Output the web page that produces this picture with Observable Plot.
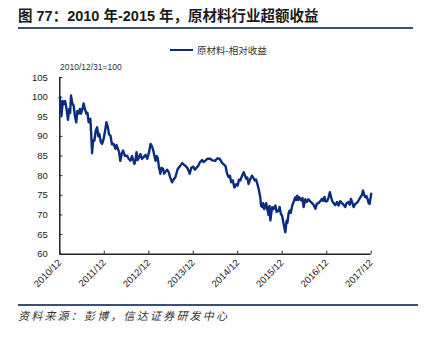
<!DOCTYPE html>
<html><head><meta charset="utf-8">
<script src="https://cdn.jsdelivr.net/npm/d3@7"></script>
<script src="https://cdn.jsdelivr.net/npm/@observablehq/plot@0.6"></script>
<style>
body{margin:0;background:#fff;}
#wrap{position:relative;width:424px;height:346px;overflow:hidden;font-family:"Liberation Sans","Noto Sans CJK SC",sans-serif;color:#222;}
#title{position:absolute;left:18px;top:6px;font-size:14.5px;font-weight:bold;white-space:nowrap;line-height:20px;color:#1a1a1a;}
.rule{position:absolute;left:18px;height:2px;background:#3E5070;}
#legend{position:absolute;left:170px;top:43px;font-family:"Noto Sans CJK SC",sans-serif;font-size:9.5px;line-height:14px;white-space:nowrap;color:#333;}
#legend .sw{display:inline-block;width:23px;height:2px;background:#0B2D7F;vertical-align:middle;margin-right:4px;position:relative;top:-1px;}
#sub{position:absolute;left:60px;top:61px;font-size:8.5px;line-height:12px;color:#333;}
#chart{position:absolute;left:0;top:60px;}
#cap{position:absolute;left:18px;top:307px;font-family:"Noto Sans CJK SC",sans-serif;font-size:11px;font-style:italic;letter-spacing:2.2px;line-height:16px;color:#333;white-space:nowrap;}
</style></head><body>
<div id="wrap">
 <div id="title">图 77：2010 年-2015 年，原材料行业超额收益</div>
 <div class="rule" style="top:27px;width:395px;"></div>
 <div id="legend"><span class="sw"></span><span>原材料-相对收益</span></div>
 <div id="sub">2010/12/31=100</div>
 <div id="chart"></div>
 <div class="rule" style="top:304px;width:400px;height:1.5px;"></div>
 <div id="cap">资料来源：彭博，信达证券研发中心</div>
</div>
<script>
const seriesName = "原材料-相对收益";
const points = [
["2010-12-31",100.0],["2011-01-07",98.0],["2011-01-14",95.3],["2011-01-24",99.0],["2011-02-02",98.2],["2011-02-12",99.0],["2011-02-22",97.5],["2011-03-08",94.2],["2011-03-19",97.0],["2011-03-26",96.0],
["2011-04-02",100.4],["2011-04-12",98.5],["2011-04-24",97.8],["2011-05-05",95.0],["2011-05-15",93.6],["2011-05-25",96.5],["2011-06-04",95.8],["2011-06-14",97.0],["2011-06-23",95.8],["2011-07-05",97.0],
["2011-07-15",98.4],["2011-07-25",97.0],["2011-08-06",95.8],["2011-08-15",96.0],["2011-08-25",93.6],["2011-09-08",94.5],["2011-09-15",90.5],["2011-09-22",85.7],["2011-09-30",89.0],["2011-10-11",88.9],
["2011-10-22",91.5],["2011-11-03",92.3],["2011-11-12",90.0],["2011-11-21",90.6],["2011-12-03",88.5],["2011-12-13",88.1],["2011-12-27",89.5],["2012-01-10",92.0],["2012-01-18",93.6],["2012-01-29",92.5],
["2012-02-08",90.5],["2012-02-20",90.2],["2012-03-03",88.0],["2012-03-17",88.1],["2012-04-01",86.8],["2012-04-10",87.8],["2012-04-19",87.0],["2012-05-01",86.0],["2012-05-11",83.8],["2012-05-22",85.5],
["2012-06-03",86.4],["2012-06-18",85.0],["2012-07-05",85.1],["2012-07-18",84.3],["2012-08-02",83.8],["2012-08-15",85.0],["2012-09-04",83.0],["2012-09-14",84.2],["2012-09-21",86.0],["2012-09-30",84.0],
["2012-10-09",84.5],["2012-10-23",85.5],["2012-11-05",84.3],["2012-11-20",84.8],["2012-12-05",85.3],["2012-12-18",84.3],["2013-01-02",86.0],["2013-01-14",88.1],["2013-01-25",87.5],["2013-02-05",86.5],
["2013-02-15",85.0],["2013-02-24",83.8],["2013-03-05",85.0],["2013-03-14",84.5],["2013-03-25",82.0],["2013-04-05",80.5],["2013-04-15",82.0],["2013-04-27",81.7],["2013-05-06",80.5],["2013-05-16",81.0],
["2013-05-30",81.5],["2013-06-12",80.9],["2013-06-25",79.5],["2013-07-10",78.3],["2013-07-22",79.0],["2013-08-06",79.6],["2013-08-25",81.7],["2013-09-10",82.3],["2013-10-01",83.2],["2013-10-15",82.8],
["2013-10-28",82.5],["2013-11-12",82.0],["2013-12-02",80.5],["2013-12-15",82.0],["2013-12-30",82.3],["2014-01-13",81.5],["2014-01-27",82.0],["2014-02-10",82.5],["2014-02-23",83.4],["2014-03-13",84.0],
["2014-03-25",83.5],["2014-04-09",83.8],["2014-04-25",84.3],["2014-05-20",84.3],["2014-06-05",83.9],["2014-06-30",83.8],["2014-07-15",84.4],["2014-08-05",84.3],["2014-08-20",83.5],["2014-09-02",83.0],
["2014-09-21",82.5],["2014-10-05",80.5],["2014-10-18",79.6],["2014-10-28",80.0],["2014-11-07",78.3],["2014-11-20",78.8],["2014-12-04",77.0],["2014-12-18",77.8],["2014-12-31",77.5],["2015-01-10",79.0],
["2015-01-22",78.8],["2015-02-05",80.0],["2015-02-18",80.9],["2015-03-01",80.0],["2015-03-11",79.2],["2015-03-20",79.5],["2015-03-30",77.9],["2015-04-12",79.0],["2015-04-27",80.0],["2015-05-08",79.5],
["2015-05-18",78.8],["2015-05-30",79.0],["2015-06-10",77.9],["2015-06-22",76.5],["2015-07-04",74.5],["2015-07-10",72.5],["2015-07-18",72.0],["2015-07-28",73.0],["2015-08-05",71.5],["2015-08-14",72.0],
["2015-08-22",73.0],["2015-08-31",71.5],["2015-09-10",70.0],["2015-09-18",72.3],["2015-09-25",68.6],["2015-10-05",71.0],["2015-10-11",72.0],["2015-10-22",71.5],["2015-11-05",72.4],["2015-11-15",70.8],
["2015-11-30",71.0],["2015-12-10",72.0],["2015-12-20",70.3],["2015-12-30",69.8],["2016-01-12",67.7],["2016-01-26",65.6],["2016-02-05",68.5],["2016-02-12",68.0],["2016-02-22",70.5],["2016-03-01",71.1],
["2016-03-10",70.5],["2016-03-23",72.4],["2016-04-05",73.5],["2016-04-17",74.5],["2016-04-25",73.8],["2016-05-03",74.9],["2016-05-12",73.8],["2016-05-20",74.5],["2016-06-05",73.7],["2016-06-15",74.3],
["2016-06-24",72.0],["2016-07-08",74.0],["2016-07-20",73.3],["2016-08-02",74.0],["2016-08-15",73.5],["2016-09-02",73.0],["2016-09-15",72.5],["2016-09-29",71.6],["2016-10-10",72.8],["2016-10-24",73.0],
["2016-11-08",73.5],["2016-11-23",74.1],["2016-12-02",73.6],["2016-12-12",74.6],["2016-12-20",73.5],["2017-01-04",73.5],["2017-01-15",74.5],["2017-01-25",75.8],["2017-02-05",74.5],["2017-02-14",73.5],
["2017-02-25",73.0],["2017-03-11",72.5],["2017-03-25",73.3],["2017-04-07",72.4],["2017-04-20",73.5],["2017-05-05",73.0],["2017-05-18",72.6],["2017-06-01",72.0],["2017-06-12",73.0],["2017-06-26",73.3],
["2017-07-08",72.6],["2017-07-18",74.1],["2017-07-28",73.2],["2017-08-09",72.0],["2017-08-22",72.8],["2017-09-09",73.2],["2017-09-20",73.8],["2017-10-03",74.5],["2017-10-15",75.0],["2017-10-25",76.2],
["2017-11-05",75.0],["2017-11-13",74.5],["2017-11-22",74.8],["2017-11-30",74.2],["2017-12-10",73.0],["2017-12-18",72.8],["2017-12-31",75.4]
];
const yTicks = [60,65,70,75,80,85,90,95,100,105];
const xTickDates = ["2010-12-31","2011-12-31","2012-12-31","2013-12-31","2014-12-31","2015-12-31","2016-12-31","2017-12-31"];
const xTickLabels = ["2010/12","2011/12","2012/12","2013/12","2014/12","2015/12","2016/12","2017/12"];

const data = points.map(([d,v])=>({date:new Date(d), value:v, series:seriesName}));
const xt = xTickDates.map(d=>new Date(d));
const axisColor = "#222";
const chart = Plot.plot({
  width:424, height:245,
  marginTop:17, marginBottom:51.3, marginLeft:59.3, marginRight:53.3,
  style:{fontFamily:"Liberation Sans, sans-serif", fontSize:"9.5px", color:"#222", background:"transparent", overflow:"visible"},
  x:{type:"utc", domain:[xt[0], xt[xt.length-1]]},
  y:{domain:[60,105]},
  marks:[
    Plot.axisY({ticks:yTicks, tickSize:-3, tickPadding:15, label:null, stroke:axisColor, fill:axisColor, fontSize:9.5}),
    Plot.axisX({ticks:xt, tickSize:-3, tickPadding:10, tickRotate:-45, label:null, stroke:axisColor, fill:axisColor, fontSize:9.5,
      tickFormat:(d)=>xTickLabels[xt.findIndex(t=>+t===+d)]}),
    Plot.ruleX([xt[0]], {stroke:axisColor, strokeWidth:1.5}),
    Plot.ruleY([60], {stroke:axisColor, strokeWidth:1.5}),
    Plot.line(data, {x:"date", y:"value", stroke:"#0B2D7F", strokeWidth:2.4, strokeLinejoin:"round"})
  ]
});
document.getElementById("chart").appendChild(chart);
</script>
</body></html>
